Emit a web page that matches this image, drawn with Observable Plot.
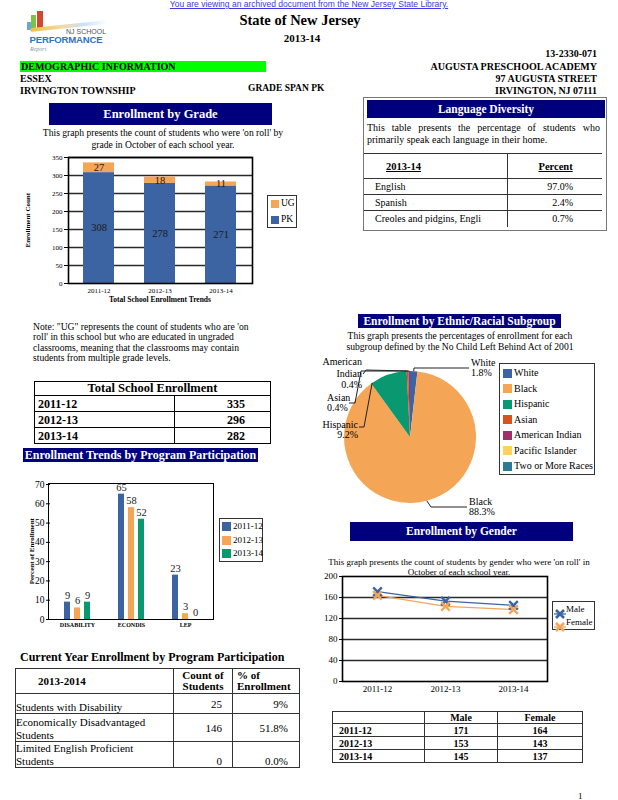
<!DOCTYPE html>
<html><head><meta charset="utf-8">
<script src="https://cdn.jsdelivr.net/npm/d3@7"></script>
<script src="https://cdn.jsdelivr.net/npm/@observablehq/plot@0.6"></script>
<style>
html,body{margin:0;padding:0;background:#fff}
#page{position:relative;width:618px;height:800px;overflow:hidden;font-family:"Liberation Serif","Times New Roman",serif;color:#000}
.a{position:absolute;white-space:nowrap}
.navy{position:absolute;background:#00007f;color:#fff;font-weight:bold;text-align:center;white-space:nowrap;overflow:visible}
.box{position:absolute;border:1.5px solid #333;background:#fff;box-sizing:border-box}
.chart{position:absolute}
.chart svg{overflow:visible;background:transparent !important;font-family:"Liberation Serif","Times New Roman",serif !important}
.chart svg text{font-family:"Liberation Serif","Times New Roman",serif !important}
table{border-collapse:collapse;position:absolute;font-family:"Liberation Serif","Times New Roman",serif;table-layout:fixed}
td{padding:0;white-space:nowrap;overflow:visible}
.prog g[aria-label^="fx-axis"] text{font-weight:bold;font-size:6px}
</style></head><body><div id="page"></div>
<script>
// ---------------- DATA ----------------
const gradeYears = ["2011-12", "2012-13", "2013-14"];
const gradeSeries = ["UG", "PK"];
const pkCounts = [308, 278, 271];
const ugCounts = [27, 18, 11];
const gradeTicks = [0, 50, 100, 150, 200, 250, 300, 350];

const totalYears = ["2011-12", "2012-13", "2013-14"];
const totalEnrollment = [335, 296, 282];

const languageNames = ["English", "Spanish", "Creoles and pidgins, Engli"];
const languagePct = ["97.0%", "2.4%", "0.7%"];

const programCats = ["DISABILITY", "ECONDIS", "LEP"];
const programYears = ["2011-12", "2012-13", "2013-14"];
const program2011 = [9, 65, 23];
const program2012 = [6, 58, 3];
const program2013 = [9, 52, 0];
const programTicks = [0, 10, 20, 30, 40, 50, 60, 70];

const ethnicGroups = ["White", "Black", "Hispanic", "Asian", "American Indian", "Pacific Islander", "Two or More Races"];
const ethnicPct = [1.8, 88.3, 9.2, 0.4, 0.4, 0, 0];

const genderYears = ["2011-12", "2012-13", "2013-14"];
const genderSeries = ["Male", "Female"];
const maleCounts = [171, 153, 145];
const femaleCounts = [164, 143, 137];
const genderTicks = [0, 40, 80, 120, 160, 200];

const currentPrograms = ["Students with Disability", "Economically Disadvantaged Students", "Limited English Proficient Students"];
const currentCounts = [25, 146, 0];
const currentPct = ["9%", "51.8%", "0.0%"];

// ---------------- STYLE ----------------
const SERIF = '"Liberation Serif","Times New Roman",serif';
const SANS = '"Liberation Sans",Arial,sans-serif';
const BLUE = "#3c64a2", ORANGE = "#f5a556", GREEN = "#0a9870";
const ethnicColors = ["#3c64a2", "#f5a556", "#0a9870", "#d9541c", "#a0306c", "#ffd25e", "#2d7b97"];

const page = document.getElementById("page");

function put(text, x, y, o = {}) {
  const size = o.size ?? 10;
  const d = document.createElement("div");
  d.className = "a";
  d.textContent = text;
  d.style.fontSize = size + "px";
  d.style.lineHeight = (size * 1.2) + "px";
  d.style.top = (y - size * 0.6) + "px";
  if (o.bold) d.style.fontWeight = "bold";
  if (o.font) d.style.fontFamily = o.font;
  if (o.color) d.style.color = o.color;
  const align = o.align || "left";
  if (align === "left") d.style.left = x + "px";
  else if (align === "right") d.style.right = (618 - x) + "px";
  else { d.style.left = x + "px"; d.style.transform = "translateX(-50%)"; }
  if (o.css) Object.assign(d.style, o.css);
  page.appendChild(d);
  return d;
}
function block(x, y, w, h, css = {}) {
  const d = document.createElement("div");
  d.style.position = "absolute";
  d.style.left = x + "px"; d.style.top = y + "px";
  d.style.width = w + "px"; d.style.height = h + "px";
  Object.assign(d.style, css);
  page.appendChild(d);
  return d;
}
function navy(text, x, y, w, h, size) {
  const d = block(x, y, w, h);
  d.className = "navy";
  d.style.fontSize = size + "px";
  d.style.lineHeight = h + "px";
  d.textContent = text;
  return d;
}
function chart(svg, x, y, w, h, cls = "") {
  const d = block(x, y, w, h);
  d.className = "chart " + cls;
  d.appendChild(svg);
  return d;
}
function legend(x, y, w, h, items, opts) {
  const b = block(x, y, w, h);
  b.className = "box";
  items.forEach((it, i) => {
    const cy = y + opts.first + i * opts.step;
    if (opts.marker) {
      const s = block(x + opts.sx, cy - 5, 12, 10);
      s.innerHTML = `<svg width="12" height="10" style="overflow:visible"><line x1="0" y1="5" x2="12" y2="5" stroke="${it.color}" stroke-width="1.3"/><path d="M2,1L10,9M10,1L2,9" stroke="${it.color}" stroke-width="2.6"/></svg>`;
    } else {
      block(x + opts.sx, cy - opts.sw / 2, opts.sw, opts.sw, {background: it.color});
    }
    put(it.label, x + opts.tx, cy, {size: opts.size});
  });
}
function table(x, y, w, cols, rowsHtml) {
  const t = document.createElement("table");
  Object.assign(t.style, {left: x + "px", top: y + "px", width: w + "px"});
  t.innerHTML = `<colgroup>${cols.map(c => `<col style="width:${c}px">`).join("")}</colgroup>` + rowsHtml;
  page.appendChild(t);
  return t;
}

// ---------------- HEADER ----------------
put("You are viewing an archived document from the New Jersey State Library.", 309, 4, {size: 8.5, align: "center", font: SANS, color: "#3a3ae6", css: {textDecoration: "underline"}});
// logo
block(27, 22, 4, 8, {background: "#6aa6d8"});
block(31, 15, 5, 14, {background: "#7cc14a"});
block(37, 11, 6, 18, {background: "#d8452f"});
block(30, 24, 78, 4, {background: "linear-gradient(90deg,#f0c040,#f4d9a0 40%,#c9e3f5 70%,#ffffff)", borderRadius: "3px", transform: "rotate(-6deg)"});
put("NJ SCHOOL", 86, 32, {size: 7, align: "center", font: SANS, color: "#555"});
put("PERFORMANCE", 66, 39.5, {size: 9.6, align: "center", font: SANS, bold: true, color: "#2f74bf", css: {letterSpacing: "-0.2px"}});
put("Report", 30, 50, {size: 6, font: SERIF, color: "#8899aa", css: {fontStyle: "italic"}});

put("State of New Jersey", 300, 21, {size: 14.5, bold: true, align: "center"});
put("2013-14", 302, 39, {size: 11, bold: true, align: "center"});
put("13-2330-071", 597, 54, {size: 10, bold: true, align: "right"});
block(20, 61, 246, 11, {background: "#00ff00"});
put("DEMOGRAPHIC INFORMATION", 21, 66.5, {size: 10, bold: true});
put("AUGUSTA PRESCHOOL ACADEMY", 597, 67, {size: 10, bold: true, align: "right"});
put("ESSEX", 20, 79, {size: 10, bold: true});
put("97 AUGUSTA STREET", 597, 79, {size: 10, bold: true, align: "right"});
put("IRVINGTON TOWNSHIP", 20, 91, {size: 10, bold: true});
put("GRADE SPAN PK", 248, 89, {size: 9.5, bold: true});
put("IRVINGTON, NJ 07111", 597, 91, {size: 10, bold: true, align: "right"});

// ---------------- ENROLLMENT BY GRADE ----------------
navy("Enrollment by Grade", 49, 103, 223, 22, 12.5);
put("This graph presents the count of students who were 'on roll' by", 163, 133, {size: 9.6, align: "center"});
put("grade in October of each school year.", 163, 145, {size: 9.6, align: "center"});

const gradeData = gradeYears.flatMap((year, i) => [
  {year, grade: "PK", count: pkCounts[i]},
  {year, grade: "UG", count: ugCounts[i]}
]);
const gradePlot = Plot.plot({
  width: 240, height: 160, marginLeft: 48, marginRight: 8, marginTop: 7, marginBottom: 27,
  style: {fontFamily: SERIF, fontSize: "7px", color: "#000", background: "transparent", overflow: "visible"},
  x: {domain: gradeYears, paddingInner: 0.49, paddingOuter: 0.25, label: null, tickSize: 0, tickPadding: 5},
  y: {domain: [0, 350], ticks: gradeTicks, label: null, tickSize: 4, tickPadding: 2},
  color: {domain: gradeSeries, range: [ORANGE, BLUE]},
  marks: [
    Plot.ruleY(gradeTicks.filter(t => t > 0), {stroke: "#2a2a2a", strokeWidth: 1.6}),
    Plot.barY(gradeData, {x: "year", y: "count", fill: "grade"}),
    Plot.text(gradeData, Plot.stackY({x: "year", y: "count", z: "grade", text: d => String(d.count), fontSize: 10.5, fill: "#1a1a1a"})),
    Plot.frame({stroke: "#000", strokeWidth: 1.6})
  ]
});
chart(gradePlot, 20, 150, 240, 160);
put("Total School Enrollment Trends", 160, 299, {size: 7.5, bold: true, align: "center"});
put("Enrollment Count", 28, 220, {size: 7, bold: true, css: {left: "28px", transform: "translateX(-50%) rotate(-90deg)"}});
legend(267, 195, 30, 33, [{label: "UG", color: ORANGE}, {label: "PK", color: BLUE}],
  {first: 8.5, step: 16, sx: 4, sw: 8, tx: 14, size: 9.5});

// ---------------- LANGUAGE DIVERSITY ----------------
block(363, 97, 244, 134, {border: "1.5px solid #777", boxSizing: "border-box"});
navy("Language Diversity", 367, 100, 238, 18, 11.5);
const desc = block(367, 122, 233, 26, {fontSize: "10px", lineHeight: "12px", textAlign: "justify"});
desc.textContent = "This table presents the percentage of students who primarily speak each language in their home.";
{
  const L = "border-top:1.5px solid #333;border-bottom:1.5px solid #333;";
  let html = `<tr style="height:25px"><td style="padding-left:22px;font-weight:bold;font-size:10.5px;text-decoration:underline;${L}border-right:1.5px solid #333">2013-14</td>
  <td style="padding-left:31px;font-weight:bold;font-size:10.5px;text-decoration:underline;${L}">Percent</td></tr>`;
  languageNames.forEach((n, i) => {
    const bb = i < languageNames.length - 1 ? "border-bottom:1.5px solid #333;" : "";
    html += `<tr style="height:16px"><td style="padding-left:11px;font-size:10px;border-right:1.5px solid #333;${bb}">${n}</td><td style="text-align:right;padding-right:29px;font-size:10px;${bb}">${languagePct[i]}</td></tr>`;
  });
  table(364, 153, 238, [143, 95], html);
}

// ---------------- NOTE + TOTAL ----------------
const note = block(33, 322, 260, 44, {fontSize: "9.6px", lineHeight: "10.4px", whiteSpace: "nowrap"});
note.innerHTML = `Note: "UG" represents the count of students who are 'on<br>roll' in this school but who are educated in ungraded<br>classrooms, meaning that the classrooms may contain<br>students from multiple grade levels.`;
{
  const B = "border:1.8px solid #000;";
  let html = `<tr style="height:14px"><td colspan="2" style="${B}text-align:center;font-weight:bold;font-size:12.5px;line-height:13px">Total School Enrollment</td></tr>`;
  totalYears.forEach((y, i) => {
    html += `<tr style="height:16px"><td style="${B}padding-left:3px;font-weight:bold;font-size:12px;line-height:14px">${y}</td><td style="${B}text-align:right;padding-right:25px;font-weight:bold;font-size:12px;line-height:14px">${totalEnrollment[i]}</td></tr>`;
  });
  table(34, 381, 236, [140, 96], html);
}

// ---------------- PROGRAM PARTICIPATION ----------------
navy("Enrollment Trends by Program Participation", 23, 448, 235, 14, 12);
const programValues = [program2011, program2012, program2013];
const programData = programCats.flatMap((cat, i) => programYears.map((year, j) => ({cat, year, pct: programValues[j][i]})));
const programPlot = Plot.plot({
  width: 200, height: 165, marginLeft: 29, marginRight: 7, marginTop: 14, marginBottom: 16,
  style: {fontFamily: SERIF, fontSize: "9.5px", color: "#000", background: "transparent", overflow: "visible"},
  facet: {data: programData, x: "cat"},
  fx: {domain: programCats, padding: 0, label: null, tickSize: 0, tickPadding: 3, axis: "bottom"},
  x: {domain: programYears, axis: null, paddingInner: 0.38, paddingOuter: 1.22},
  y: {domain: [0, 70], ticks: programTicks, label: null, tickSize: 4, tickPadding: 2},
  color: {domain: programYears, range: [BLUE, ORANGE, GREEN]},
  marks: [
    Plot.barY(programData, {x: "year", y: "pct", fill: "year"}),
    Plot.text(programData, {x: "year", y: "pct", text: d => String(d.pct), dy: -7, fontSize: 10.5, fill: "#222"})
  ]
});
chart(programPlot, 20, 470, 200, 165, "prog");
block(48, 483, 166, 137, {border: "1.6px solid #000", boxSizing: "border-box"});
put("Percent of Enrollment", 32, 551, {size: 7, bold: true, css: {left: "32px", transform: "translateX(-50%) rotate(-90deg)"}});
legend(219, 518, 44, 44, programYears.map((y, i) => ({label: y, color: [BLUE, ORANGE, GREEN][i]})),
  {first: 8.5, step: 13.5, sx: 3, sw: 9, tx: 14, size: 9});

// ---------------- ETHNIC PIE ----------------
navy("Enrollment by Ethnic/Racial Subgroup", 358, 314, 203, 14, 11.5);
put("This graph presents the percentages of enrollment for each", 460, 335.5, {size: 9.6, align: "center"});
put("subgroup defined by the No Child Left Behind Act of 2001", 460, 347, {size: 9.6, align: "center"});

const ethnicData = ethnicGroups.map((group, i) => ({group, pct: ethnicPct[i]}));
const pieColor = Plot.scale({color: {type: "ordinal", domain: ethnicGroups, range: ethnicColors}});
const PIE_X = 320, PIE_Y = 350;
// leader layout: attach = fraction along the slice, path = page points toward the label
const leaders = [
  {group: "White", attach: 0.5, path: [[414, 368], [469, 368]]},
  {group: "Black", attach: 0.5, path: [[431, 507], [467, 507]]},
  {group: "Hispanic", attach: 0.03, path: [[364, 427], [359, 427]]},
  {group: "Asian", attach: 0.5, path: [[361, 371], [355, 403], [349, 403]]},
  {group: "American Indian", attach: 0.5, path: [[366, 370], [363, 374]]}
];
function pieMark(index, scales, values, dim) {
  const w = dim.width - dim.marginLeft - dim.marginRight;
  const h = dim.height - dim.marginTop - dim.marginBottom;
  const cx = dim.marginLeft + w / 2, cy = dim.marginTop + h / 2, r = Math.min(w, h) / 2;
  const arcs = d3.pie().sort(null).value(d => d.pct)(ethnicData);
  const g = d3.create("svg:g");
  const inner = g.append("g").attr("transform", `translate(${cx},${cy})`);
  const arc = d3.arc().innerRadius(0).outerRadius(r);
  inner.selectAll("path").data(arcs.filter(a => a.data.pct > 0)).join("path")
    .attr("d", arc).attr("fill", a => pieColor.apply(a.data.group));
  for (const L of leaders) {
    const a = arcs.find(a => a.data.group === L.group);
    const th = a.startAngle + L.attach * (a.endAngle - a.startAngle);
    const pts = [[cx + r * Math.sin(th), cy - r * Math.cos(th)], ...L.path.map(([x, y]) => [x - PIE_X, y - PIE_Y])];
    g.append("path").attr("d", d3.line()(pts)).attr("fill", "none").attr("stroke", "#222").attr("stroke-width", 1);
  }
  return g.node();
}
const piePlot = Plot.plot({
  width: 180, height: 170, marginLeft: 24, marginRight: 24, marginTop: 21, marginBottom: 17,
  style: {fontFamily: SERIF, fontSize: "10px", background: "transparent", overflow: "visible"},
  marks: [pieMark]
});
chart(piePlot, PIE_X, PIE_Y, 180, 170);
const pctLabel = g => ethnicPct[ethnicGroups.indexOf(g)].toFixed(1) + "%";
put("White", 471, 363, {size: 10});
put(pctLabel("White"), 471, 373, {size: 10});
put("Black", 469, 502, {size: 10});
put(pctLabel("Black"), 469, 512, {size: 10});
put("American", 362, 362, {size: 10, align: "right"});
put("Indian", 362, 374, {size: 10, align: "right"});
put(pctLabel("American Indian"), 362, 385, {size: 10, align: "right"});
put("Asian", 327, 398, {size: 10});
put(pctLabel("Asian"), 327, 408, {size: 10});
put("Hispanic", 358, 425, {size: 10, align: "right"});
put(pctLabel("Hispanic"), 358, 435, {size: 10, align: "right"});
legend(499, 363, 96, 112, ethnicGroups.map(g => ({label: g, color: pieColor.apply(g)})),
  {first: 10, step: 15.5, sx: 4, sw: 9, tx: 15, size: 10});

// ---------------- GENDER ----------------
navy("Enrollment by Gender", 350, 522, 223, 19, 11.5);
put("This graph presents the count of students by gender who were 'on roll' in", 459, 562, {size: 9, align: "center"});
put("October of each school year.", 459, 572, {size: 9, align: "center"});
const genderData = genderSeries.flatMap(gender => genderYears.map((year, i) => ({year, gender, count: gender === "Male" ? maleCounts[i] : femaleCounts[i]})));
const genderPlot = Plot.plot({
  width: 240, height: 125, marginLeft: 22, marginRight: 13, marginTop: 6, marginBottom: 14,
  style: {fontFamily: SERIF, fontSize: "9px", color: "#000", background: "transparent", overflow: "visible"},
  x: {type: "point", domain: genderYears, padding: 0.5, label: null, tickSize: 0, tickPadding: 4},
  y: {domain: [0, 200], ticks: genderTicks, label: null, tickSize: 3, tickPadding: 2},
  color: {domain: genderSeries, range: [BLUE, ORANGE]},
  marks: [
    Plot.ruleY(genderTicks.filter(t => t > 0 && t < 200), {stroke: "#2a2a2a", strokeWidth: 1.6}),
    Plot.line(genderData, {x: "year", y: "count", stroke: "gender", strokeWidth: 1.3}),
    Plot.dot(genderData, {x: "year", y: "count", stroke: "gender", symbol: "times", r: 4, strokeWidth: 2.4}),
    Plot.frame({stroke: "#000", strokeWidth: 1.6})
  ]
});
chart(genderPlot, 320, 570, 240, 125);
legend(552, 601, 43, 29, [{label: "Male", color: BLUE}, {label: "Female", color: ORANGE}],
  {first: 8.5, step: 13, sx: 2, sw: 0, tx: 14, size: 9, marker: true});
{
  const B = "border:1.6px solid #333;";
  const C = "font-weight:bold;font-size:10px;line-height:11px;";
  let html = `<tr style="height:12px"><td style="${B}"></td><td style="${B}${C}text-align:center">${genderSeries[0]}</td><td style="${B}${C}text-align:center">${genderSeries[1]}</td></tr>`;
  genderYears.forEach((y, i) => {
    html += `<tr style="height:13px"><td style="${B}${C}padding-left:6px">${y}</td><td style="${B}${C}text-align:center">${maleCounts[i]}</td><td style="${B}${C}text-align:center">${femaleCounts[i]}</td></tr>`;
  });
  table(332, 711, 250, [92, 73, 85], html);
}

// ---------------- CURRENT YEAR TABLE ----------------
put("Current Year Enrollment by Program Participation", 20, 657, {size: 12, bold: true});
{
  const B = "border:1.6px solid #333;";
  const heights = [20, 28, 23];
  const valign = ["middle", "middle", "bottom"];
  let html = `<tr style="height:25px"><td style="${B}padding-left:22px;font-weight:bold;font-size:11px">2013-2014</td>
    <td style="${B}text-align:center;font-weight:bold;font-size:11px;line-height:11.5px">Count of<br>Students</td>
    <td style="${B}padding-left:4px;font-weight:bold;font-size:11px;line-height:11.5px">% of<br>Enrollment</td></tr>`;
  currentPrograms.forEach((p, i) => {
    const label = p.endsWith(" Students") ? p.replace(/ Students$/, "<br>Students") : p;
    html += `<tr style="height:${heights[i]}px"><td style="${B}font-size:11px;line-height:12.5px;vertical-align:bottom">${label}</td><td style="${B}text-align:right;padding-right:10px;font-size:11px;line-height:12px;vertical-align:${valign[i]}">${currentCounts[i]}</td><td style="${B}text-align:right;padding-right:11px;font-size:11px;line-height:12px;vertical-align:${valign[i]}">${currentPct[i]}</td></tr>`;
  });
  table(15, 668, 284, [158, 59, 67], html);
}

put("1", 578, 796, {size: 9});
</script>
</body></html>
